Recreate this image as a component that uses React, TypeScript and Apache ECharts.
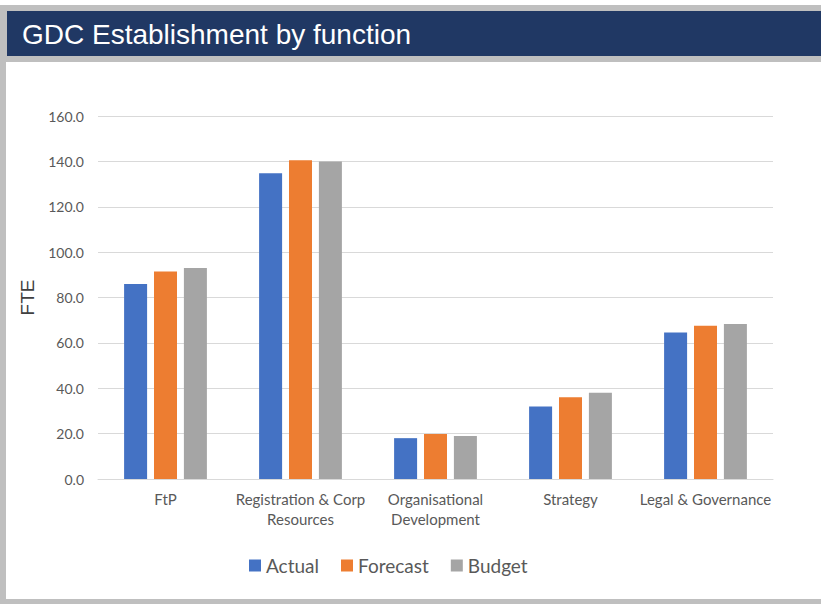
import React, { useEffect, useRef } from "react";
import * as echarts from "echarts";

const categories = [
  "FtP",
  "Registration & Corp\nResources",
  "Organisational\nDevelopment",
  "Strategy",
  "Legal & Governance",
];
const actual = [86.0, 134.8, 18.0, 32.0, 64.6];
const forecast = [91.5, 140.5, 19.8, 36.0, 67.5];
const budget = [93.0, 140.0, 19.0, 38.0, 68.3];
const seriesNames = ["Actual", "Forecast", "Budget"];
const colors = ["#4472C4", "#ED7D31", "#A5A5A5"];
const title = "GDC Establishment by function";
const yAxisName = "FTE";

export default function App() {
  const ref = useRef<HTMLDivElement>(null);
  useEffect(() => {
    if (!ref.current) return;
    const chart = echarts.init(ref.current, undefined, { renderer: "svg" });
    const values = [actual, forecast, budget];
    chart.setOption({
      animation: false,
      backgroundColor: "#ffffff",
      graphic: [
        { type: "rect", shape: { x: 0, y: 5, width: 821, height: 57 }, style: { fill: "#bfbfbf" }, z: -10 },
        { type: "rect", shape: { x: 0, y: 5, width: 6, height: 599 }, style: { fill: "#bfbfbf" }, z: -10 },
        { type: "rect", shape: { x: 0, y: 599, width: 821, height: 5 }, style: { fill: "#bfbfbf" }, z: -10 },
        { type: "rect", shape: { x: 7, y: 11, width: 814, height: 45 }, style: { fill: "#203864" }, z: -9 },
        {
          type: "text",
          x: 22,
          y: 34,
          style: {
            text: title,
            fill: "#ffffff",
            font: '28px "Liberation Sans", Arial, sans-serif',
            verticalAlign: "middle",
          },
          z: 10,
        },
      ],
      color: colors,
      grid: { left: 98, right: 48, top: 116, bottom: 125, containLabel: false },
      legend: {
        data: seriesNames,
        left: 244,
        top: 551,
        itemWidth: 12,
        itemHeight: 12,
        itemGap: 22,
        icon: "rect",
        textStyle: { fontFamily: "Lato", fontSize: 19, color: "#595959" },
      },
      xAxis: {
        type: "category",
        data: categories,
        axisLine: { lineStyle: { color: "#d9d9d9", width: 1 } },
        axisTick: { show: false },
        axisLabel: {
          margin: 10,
          fontFamily: "Lato",
          fontSize: 15,
          color: "#595959",
          lineHeight: 20,
          interval: 0,
        },
      },
      yAxis: {
        type: "value",
        min: 0,
        max: 160,
        interval: 20,
        name: yAxisName,
        nameLocation: "middle",
        nameGap: 60,
        nameRotate: 90,
        nameTextStyle: { fontFamily: "Liberation Sans", fontSize: 19, color: "#404040" },
        axisLine: { show: false },
        axisTick: { show: false },
        splitLine: { lineStyle: { color: "#d9d9d9", width: 1 } },
        axisLabel: {
          margin: 14,
          fontFamily: "Lato",
          fontSize: 14,
          color: "#595959",
          formatter: (v: number) => v.toFixed(1),
        },
      },
      series: seriesNames.map((name, i) => ({
        name,
        type: "bar",
        data: values[i],
        barWidth: 23,
        barGap: "30%",
        itemStyle: { color: colors[i] },
      })),
    });
    return () => chart.dispose();
  }, []);
  return (
    <div
      ref={ref}
      style={{ position: "absolute", left: 0, top: 0, width: 821, height: 604 }}
    />
  );
}
